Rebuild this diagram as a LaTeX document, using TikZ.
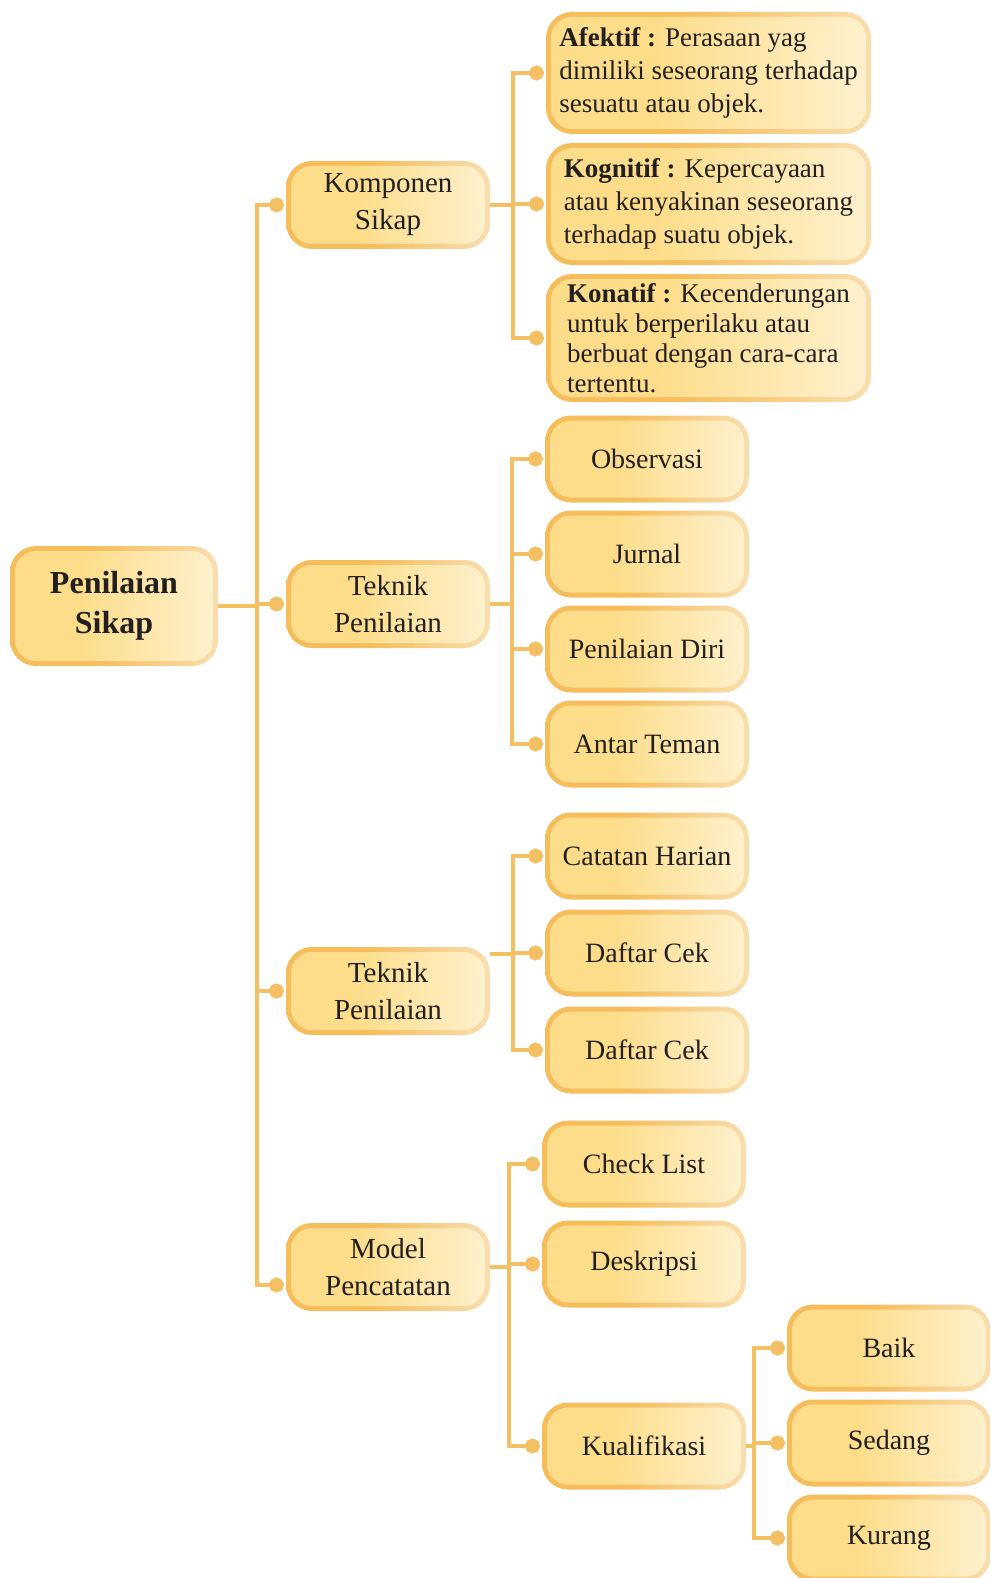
\documentclass[tikz,border=0pt]{standalone}
\usepackage{fontspec}
\setmainfont{Liberation Serif}
\usetikzlibrary{positioning,arrows.meta}
\definecolor{boxleft}{HTML}{FDDD8A}
\definecolor{boxright}{HTML}{FEF1CE}
\definecolor{rimleft}{HTML}{F5BD5C}
\definecolor{rimright}{HTML}{F9DEAE}
\definecolor{linkline}{HTML}{F4C063}
\definecolor{ink}{HTML}{231F20}
\pgfdeclarehorizontalshading{boxshade}{100bp}{color(0bp)=(boxleft); color(42bp)=(boxleft); color(75bp)=(boxright); color(100bp)=(boxright)}
\pgfdeclarehorizontalshading{rimshade}{100bp}{color(0bp)=(rimleft); color(45bp)=(rimleft); color(75bp)=(rimright); color(100bp)=(rimright)}

\begin{document}
\begin{tikzpicture}[x=0.5pt, y=-0.5pt, node distance=47.5pt, on grid,
    box/.style={rounded corners=13pt, shade, shading=rimshade, outer sep=0pt,
      path picture={\shade[shading=boxshade, rounded corners=10.5pt]
        ([shift={(2.5pt,2.5pt)}]path picture bounding box.south west) rectangle
        ([shift={(-2.5pt,-2.5pt)}]path picture bounding box.north east);},
      text=ink, align=center, minimum width=102pt, minimum height=43.5pt,
      font=\fontsize{14}{18.5}\selectfont},
    sub/.style={box, minimum height=44pt, font=\fontsize{14.5}{18.5}\selectfont},
    main/.style={box, minimum width=104pt, minimum height=60pt,
      font=\bfseries\fontsize{16}{20}\selectfont},
    note/.style={box, align=left, minimum width=162.5pt, minimum height=61pt,
      font=\fontsize{13.5}{16.5}\selectfont},
    link/.style={color=linkline, line width=2pt, -{Circle[length=7.5pt]}, shorten >=1pt}]
    \useasboundingbox (0,0) rectangle (990,1578);
    \clip (0,0) rectangle (990,1578);

    \node[main] (root) at (114,606) {Penilaian\\Sikap};
    \node[sub] (komp) at (388,205) {Komponen\\Sikap};
    \node[sub] (tek) at (388,604) {Teknik\\Penilaian};
    \node[sub] (tek2) at (388,991) {Teknik\\Penilaian};
    \node[sub] (model) at (388,1267) {Model\\Pencatatan};

    \node[note] (afektif) at (708.5,73) {\textbf{Afektif :} Perasaan yag\\dimiliki seseorang terhadap\\sesuatu atau objek.};
    \node[note] (kognitif) at (708.5,204) {\textbf{Kognitif :} Kepercayaan\\atau kenyakinan seseorang\\terhadap suatu objek.};
    \node[note, minimum height=64pt, inner ysep=1pt, font=\fontsize{13.5}{15}\selectfont] (konatif) at (708.5,338) {\textbf{Konatif :} Kecenderungan\\untuk berperilaku atau\\berbuat dengan cara-cara\\tertentu.};

    \node[box] (obs) at (647,459) {Observasi};
    \node[box] (jurnal) [below=of obs] {Jurnal};
    \node[box] (diri) [below=of jurnal] {Penilaian Diri};
    \node[box] (antar) [below=of diri] {Antar Teman};

    \node[box] (catatan) at (647,856) {Catatan Harian};
    \node[box] (cek) [below=48.5pt of catatan] {Daftar Cek};
    \node[box] (cek2) [below=48.5pt of cek] {Daftar Cek};

    \node[box] (check) at (644,1164) {Check List};
    \node[box] (deskripsi) [below=50pt of check] {Deskripsi};
    \node[box] (kual) at (644,1446) {Kualifikasi};

    \node[box] (baik) at (889,1348) {Baik};
    \node[box] (sedang) [below=of baik] {Sedang};
    \node[box] (kurang) [below=of sedang] {Kurang};

    % trunk from the root
    \foreach \kid in {komp,tek,tek2}
      \draw[link] (root.east) -- ++(39,0) |- (\kid.west);
    \draw[link] (root.east) -- ++(39,0) |- ([yshift=-9pt]model.west);

    % branches
    \foreach \kid in {afektif,kognitif,konatif}
      \draw[link] (komp.east) -- ++(23,0) |- (\kid.west);
    \foreach \kid in {obs,jurnal,diri,antar}
      \draw[link] (tek.east) -- ++(22,0) |- (\kid.west);
    \foreach \kid in {catatan,cek,cek2}
      \draw[link] ([yshift=18.5pt]tek2.east) -- ++(23,0) |- (\kid.west);
    \foreach \kid in {check,deskripsi,kual}
      \draw[link] (model.east) -- ++(19,0) |- (\kid.west);
    \foreach \kid in {baik,sedang,kurang}
      \draw[link] (kual.east) -- ++(8,0) |- (\kid.west);
\end{tikzpicture}
\end{document}
